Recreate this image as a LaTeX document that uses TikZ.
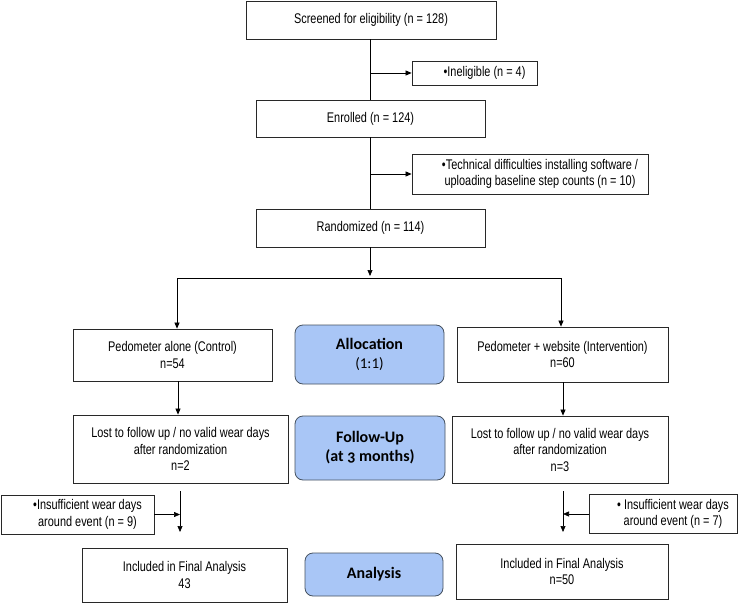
\documentclass[tikz,border=0pt]{standalone}
\usepackage{fontspec}
\setmainfont{Liberation Sans}[FakeStretch=0.78]
\newfontfamily\blfont{Carlito}
\newfontfamily\blfontold{Carlito}[Numbers=OldStyle]
\usetikzlibrary{arrows.meta}
\definecolor{bfill}{RGB}{169,198,246}
\definecolor{bdraw}{RGB}{70,82,96}
\definecolor{edge}{RGB}{40,40,40}
\newcommand\bulind{\hspace*{20pt}}
\begin{document}
\begin{tikzpicture}[x=1pt,y=-1pt,
  box/.style={draw=edge, line width=0.8pt, align=center, inner sep=0pt,
    font=\fontsize{14}{16.5}\selectfont},
  bx/.style 2 args={box, minimum width=#1, minimum height=#2},
  blue/.style 2 args={draw=bdraw, fill=bfill, rounded corners=8pt, line width=0.8pt,
    align=center, inner sep=0pt, minimum width=#1, minimum height=#2,
    font=\blfont\fontsize{16}{19}\selectfont},
  arr/.style={-{Triangle[length=6pt,width=5pt]}, line width=0.7pt},
  ln/.style={line width=0.7pt}]
\useasboundingbox (0,0) rectangle (741,604);
\fill[white] (0,0) rectangle (741,604);

% nodes
\node[bx={250pt}{38pt}] (scr) at (371,20) {Screened for eligibility (n = 128)};
\node[bx={125pt}{24pt}] (inel) at (474.5,73) {\bulind•Ineligible (n = 4)};
\node[bx={229pt}{37pt}] (enr) at (370.5,118.5) {Enrolled (n = 124)};
\node[bx={236pt}{40pt}] (tech) at (530,174) {\bulind•Technical difficulties installing software /\\\bulind uploading baseline step counts (n = 10)};
\node[bx={229pt}{38pt}] (rand) at (370.5,228) {Randomized (n = 114)};

\node[bx={199pt}{52pt}] (ctrl) at (172.5,355) {Pedometer alone (Control)\\n=54};
\node[blue={149pt}{59pt}] (alloc) at (369.5,354.5) {\textbf{Allocation}\\{\fontsize{15}{18}\selectfont(1:1)}};
\node[bx={211pt}{55pt}] (intv) at (562.5,354.5) {Pedometer + website (Intervention)\\n=60};

\node[bx={215pt}{68pt}] (lostL) at (180.5,449) {Lost to follow up / no valid wear days\\after randomization\\n=2};
\node[blue={150pt}{64pt}] (fu) at (370,448) {\textbf{Follow-Up}\\\blfontold\textbf{(at 3 months)}};
\node[bx={216pt}{67pt}] (lostR) at (560,449.5) {Lost to follow up / no valid wear days\\after randomization\\n=3};

\node[bx={153pt}{39pt}] (insL) at (77.5,514.5) {\bulind•Insufficient wear days\\\bulind around event (n = 9)};
\node[bx={148pt}{39pt}] (insR) at (663,514) {\bulind• Insufficient wear days\\\bulind around event (n = 7)};

\node[bx={205pt}{54pt}] (incL) at (184.5,575) {Included in Final Analysis\\43};
\node[blue={138pt}{43pt}] (ana) at (374,574.5) {\textbf{Analysis}};
\node[bx={212pt}{55pt}] (incR) at (562,571.5) {Included in Final Analysis\\n=50};

% helper coordinates
\coordinate (m) at (370,0);
\coordinate (sp) at (370,276);
\coordinate (hl) at (177,278);
\coordinate (hr) at (561,278);
\coordinate (cl) at (178,0);
\coordinate (cr) at (563,0);
\coordinate (vL1) at (180,491);
\coordinate (vL2) at (180,532);
\coordinate (vR1) at (563,491);
\coordinate (vR2) at (563,532);

% connectors
\draw[ln] (scr.south -| m) -- (enr.north -| m);
\draw[arr] (inel.west -| m) -- (inel.west);
\draw[ln] (enr.south -| m) -- (rand.north -| m);
\draw[arr] (tech.west -| m) -- (tech.west);
\draw[arr] (rand.south -| m) -- (sp);
\draw[ln] (hl) -- (hr);
\draw[arr] (hl) -- (ctrl.north -| hl);
\draw[arr] (hr) -- (intv.north -| hr);
\draw[arr] (ctrl.south -| cl) -- (lostL.north -| cl);
\draw[arr] (intv.south -| cr) -- (lostR.north -| cr);
\draw[arr] (vL1) -- (vL2);
\draw[arr] (insL.east) -- (insL.east -| vL1);
\draw[arr] (vR1) -- (vR2);
\draw[arr] (insR.west) -- (insR.west -| vR1);
\end{tikzpicture}
\end{document}
